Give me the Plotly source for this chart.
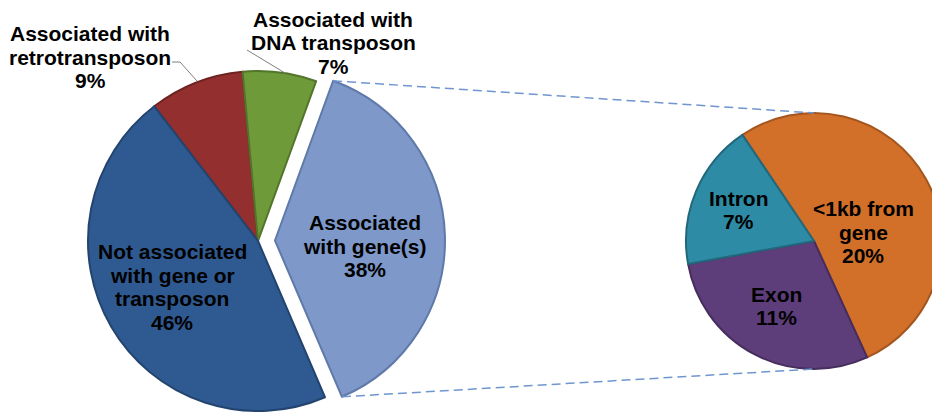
import math
import plotly.graph_objects as go

W, H = 944, 415   # figure slightly wider than the window so the right pie is clipped like the reference

# ---- data ----
main_labels = ["Associated with retrotransposon", "Associated with DNA transposon",
               "Associated with gene(s)", "Not associated with gene or transposon"]
main_values = [9, 7, 38, 46]
main_colors = ["#93302F", "#6E9A3A", "#7D98C9", "#2F5A91"]
main_edges = ["#6E2322", "#52742B", "#5F79A8", "#22446E"]

sub_labels = ["<1kb from gene", "Exon", "Intron"]
sub_values = [20, 11, 7]
sub_colors = ["#D2702A", "#5E3D7B", "#2E8BA5"]
sub_edges = ["#A4561E", "#462D5C", "#22687C"]

main_text = [["Associated with", "retrotransposon", "9%"],
             ["Associated with", "DNA transposon", "7%"],
             ["Associated", "with gene(s)", "38%"],
             ["Not associated", "with gene or", "transposon", "46%"]]
sub_text = [["<1kb from", "gene", "20%"], ["Exon", "11%"], ["Intron", "7%"]]

# ---- geometry (pixels) ----
main_c = (258, 241); main_r = 170
pull_px = 17
main_rot = -37.6
sub_c = (814, 241); sub_r = 128
sub_rot = -34


def dom(c, r):
    cx, cy = c
    return dict(x=[(cx - r) / W, (cx + r) / W], y=[1 - (cy + r) / H, 1 - (cy - r) / H])


def px(x, y):
    return x / W, 1 - y / H


tot = sum(main_values)
start = main_rot
angles = []
for v in main_values:
    angles.append((start, start + v / tot * 360))
    start += v / tot * 360
g0, g1 = angles[2]
mid = math.radians((g0 + g1) / 2)
ex_c = (main_c[0] + pull_px * math.sin(mid), main_c[1] - pull_px * math.cos(mid))

fig = go.Figure()
T = "rgba(0,0,0,0)"
fig.add_trace(go.Pie(
    labels=main_labels, values=main_values, sort=False, direction="clockwise",
    rotation=main_rot, textinfo="none", hoverinfo="label+percent",
    marker=dict(colors=[main_colors[0], main_colors[1], T, main_colors[3]],
                line=dict(color=[main_edges[0], main_edges[1], T, main_edges[3]],
                          width=[2, 2, 0, 2])),
    domain=dom(main_c, main_r), showlegend=False,
))
fig.add_trace(go.Pie(
    labels=main_labels, values=main_values, sort=False, direction="clockwise",
    rotation=main_rot, textinfo="none", hoverinfo="label+percent",
    marker=dict(colors=[T, T, main_colors[2], T],
                line=dict(color=[T, T, main_edges[2], T], width=[0, 0, 2, 0])),
    domain=dom(ex_c, main_r), showlegend=False,
))
fig.add_trace(go.Pie(
    labels=sub_labels, values=sub_values, sort=False, direction="clockwise",
    rotation=sub_rot, textinfo="none", hoverinfo="label+percent",
    marker=dict(colors=sub_colors, line=dict(color=sub_edges, width=2)),
    domain=dom(sub_c, sub_r), showlegend=False,
))

# connector dashed lines
pa = math.radians(g0); pb = math.radians(g1)
p_top = (ex_c[0] + main_r * math.sin(pa), ex_c[1] - main_r * math.cos(pa))
p_bot = (ex_c[0] + main_r * math.sin(pb), ex_c[1] - main_r * math.cos(pb))
s_top = (sub_c[0], sub_c[1] - sub_r)
s_bot = (sub_c[0], sub_c[1] + sub_r)
for a, b in [(p_top, s_top), (p_bot, s_bot)]:
    x0, y0 = px(*a); x1, y1 = px(*b)
    fig.add_shape(type="line", xref="paper", yref="paper", x0=x0, y0=y0, x1=x1, y1=y1,
                  line=dict(color="#6F96CF", width=1.5, dash="9px,5px"))

# leader lines for outside labels
leaders = [[(172, 62), (180, 62), (197, 81)], [(247, 50), (285, 73)]]
for pts in leaders:
    for (xa, ya), (xb, yb) in zip(pts[:-1], pts[1:]):
        x0, y0 = px(xa, ya); x1, y1 = px(xb, yb)
        fig.add_shape(type="line", xref="paper", yref="paper", x0=x0, y0=y0, x1=x1, y1=y1,
                      line=dict(color="#7F7F7F", width=1))

# labels (one annotation per line for tight Excel-like line spacing)
label_pos_main = [(90, 57), (333, 43), (365, 246), (172, 287)]
label_pos_sub = [(863, 232), (776, 306), (738, 210)]
LS = 23.5
font = dict(family="Liberation Sans, Arial, sans-serif", size=21, color="#000000")
for lines, (x, y) in zip(main_text + sub_text, label_pos_main + label_pos_sub):
    n = len(lines)
    for i, ln in enumerate(lines):
        yy = y + (i - (n - 1) / 2) * LS
        fx, fy = px(x, yy)
        fig.add_annotation(text="<b>" + ln + "</b>", x=fx, y=fy, xref="paper", yref="paper",
                           showarrow=False, xanchor="center", yanchor="middle", font=font)

fig.update_layout(width=W, height=H, margin=dict(l=0, r=0, t=0, b=0),
                  paper_bgcolor="white", plot_bgcolor="white")
fig.write_html("out.html", config={"displayModeBar": False},
               post_script="document.body.style.margin='0px';document.body.style.overflow='hidden';")
